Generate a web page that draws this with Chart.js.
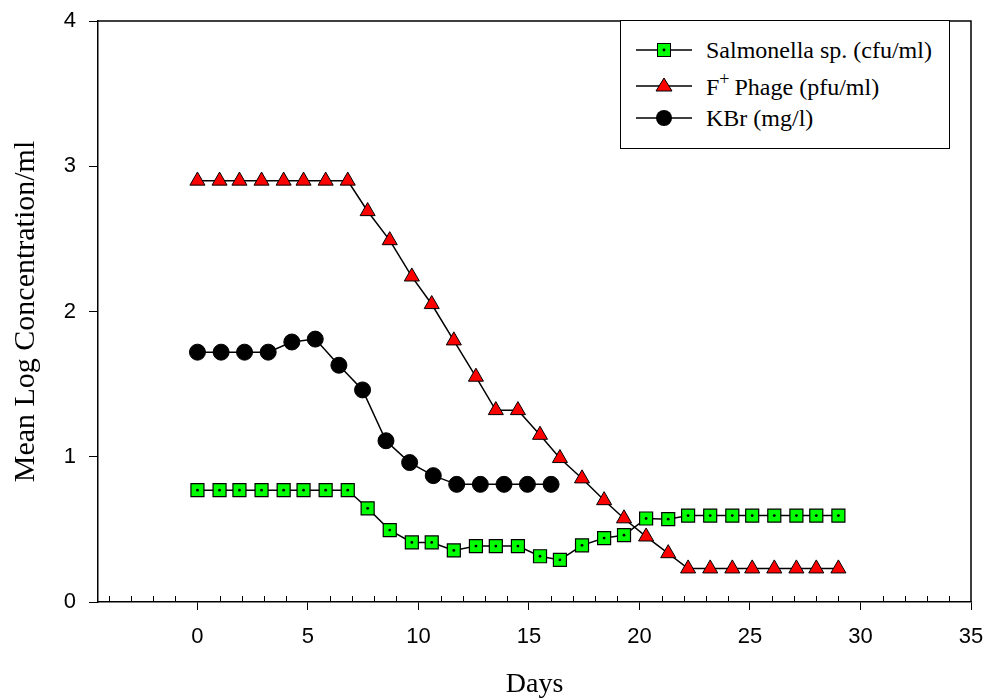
<!DOCTYPE html>
<html>
<head>
<meta charset="utf-8">
<script src="https://cdn.jsdelivr.net/npm/chart.js@4/dist/chart.umd.min.js"></script>
<style>
	body { margin: 0; background: #fff; }
	#wrap { position: relative; width: 987px; height: 700px; }
	#legend {
		position: absolute; left: 620px; top: 20px; width: 330px; height: 129px;
		border: 1.5px solid #000; background: #fff; box-sizing: border-box;
		font-family: "Liberation Serif", "Times New Roman", serif; font-size: 24px; color: #000;
	}
	.row { position: absolute; left: 0; height: 30px; display: flex; align-items: center; }
	.row svg { margin-left: 15px; margin-right: 14px; }
	sup { font-size: 0.75em; vertical-align: 0.55em; margin-right: 5px; }
</style>
</head>
<body>
<div id="wrap">
	<canvas id="chart" width="987" height="700"></canvas>
	<div id="legend">
		<div class="row" style="top:14px">
			<svg width="56" height="20"><line x1="0" y1="10" x2="56" y2="10" stroke="#000" stroke-width="1.5"/><rect x="21.5" y="3.5" width="13" height="13" fill="#00ff00" stroke="#000" stroke-width="1"/><circle cx="28" cy="10" r="1.4" fill="#000"/></svg>
			<span>Salmonella sp. (cfu/ml)</span>
		</div>
		<div class="row" style="top:49px">
			<svg width="56" height="20"><line x1="0" y1="11" x2="56" y2="11" stroke="#000" stroke-width="1.5"/><polygon points="28,3 36,16 20,16" fill="#ff0000" stroke="#000" stroke-width="1"/></svg>
			<span>F<sup>+</sup>Phage (pfu/ml)</span>
		</div>
		<div class="row" style="top:82px">
			<svg width="56" height="20"><line x1="0" y1="10" x2="56" y2="10" stroke="#000" stroke-width="1.5"/><circle cx="28" cy="10" r="8" fill="#000"/></svg>
			<span>KBr (mg/l)</span>
		</div>
	</div>
</div>
<script>
// sampling days (Salmonella and phage share the same days)
const sampleDays = [0, 1, 1.9, 2.9, 3.9, 4.8, 5.8, 6.8, 7.7, 8.7, 9.7, 10.6, 11.6, 12.6, 13.5, 14.5,
	15.5, 16.4, 17.4, 18.4, 19.3, 20.3, 21.3, 22.2, 23.2, 24.2, 25.1, 26.1, 27.1, 28, 29];
const salmonella = [0.77, 0.77, 0.77, 0.77, 0.77, 0.77, 0.77, 0.77, 0.645, 0.495, 0.41, 0.41, 0.355,
	0.385, 0.385, 0.385, 0.315, 0.29, 0.39, 0.44, 0.46, 0.575, 0.57, 0.595, 0.595, 0.595, 0.595,
	0.595, 0.595, 0.595, 0.595];
const phage = [2.9, 2.9, 2.9, 2.9, 2.9, 2.9, 2.9, 2.9, 2.69, 2.49, 2.24, 2.05, 1.8, 1.55, 1.32, 1.32,
	1.15, 0.99, 0.85, 0.7, 0.575, 0.45, 0.335, 0.23, 0.23, 0.23, 0.23, 0.23, 0.23, 0.23, 0.23];
const kbrDays = [0, 1.07, 2.13, 3.2, 4.27, 5.33, 6.4, 7.47, 8.53, 9.6, 10.67, 11.73, 12.8, 13.87, 14.93, 16];
const kbr = [1.72, 1.72, 1.72, 1.72, 1.79, 1.81, 1.63, 1.46, 1.11, 0.96, 0.87, 0.81, 0.81, 0.81, 0.81, 0.81];

const xTicks = [0, 5, 10, 15, 20, 25, 30, 35];
const yTicks = [0, 1, 2, 3, 4];

const toPoints = (xs, ys) => xs.map((x, i) => ({x: x, y: ys[i]}));

// frame on top/right plus inward minor ticks on the x axis
const framePlugin = {
	id: `frame`,
	afterDraw(chart) {
		const {ctx, chartArea} = chart;
		const xScale = chart.scales.x;
		ctx.save();
		ctx.strokeStyle = `#000`;
		ctx.lineWidth = 1.5;
		ctx.beginPath();
		ctx.moveTo(chartArea.left, chartArea.top);
		ctx.lineTo(chartArea.right, chartArea.top);
		ctx.lineTo(chartArea.right, chartArea.bottom);
		ctx.stroke();
		ctx.lineWidth = 1;
		for (let v = -4; v < 35; v++) {
			if (v % 5 === 0) { continue; }
			const px = Math.round(xScale.getPixelForValue(v)) + 0.5;
			ctx.beginPath();
			ctx.moveTo(px, chartArea.bottom);
			ctx.lineTo(px, chartArea.bottom - 6);
			ctx.stroke();
		}
		ctx.restore();
	}
};

new Chart(document.getElementById(`chart`), {
	type: `scatter`,
	data: {
		datasets: [
			{
				label: `dots`,
				data: toPoints(sampleDays, salmonella),
				showLine: false,
				pointStyle: `circle`,
				pointRadius: 1.4,
				backgroundColor: `#000`,
				borderWidth: 0,
				order: 0
			},
			{
				label: `Salmonella sp. (cfu/ml)`,
				data: toPoints(sampleDays, salmonella),
				showLine: true,
				borderColor: `#000`,
				borderWidth: 1.5,
				pointStyle: `rect`,
				pointRadius: 9.2,
				pointBackgroundColor: `#00ff00`,
				pointBorderColor: `#000`,
				pointBorderWidth: 1.2,
				order: 1
			},
			{
				label: `F+ Phage (pfu/ml)`,
				data: toPoints(sampleDays, phage),
				showLine: true,
				borderColor: `#000`,
				borderWidth: 1.5,
				pointStyle: `triangle`,
				pointRadius: 8.7,
				pointBackgroundColor: `#ff0000`,
				pointBorderColor: `#000`,
				pointBorderWidth: 1,
				order: 2
			},
			{
				label: `KBr (mg/l)`,
				data: toPoints(kbrDays, kbr),
				showLine: true,
				borderColor: `#000`,
				borderWidth: 1.5,
				pointStyle: `circle`,
				pointRadius: 8,
				pointBackgroundColor: `#000`,
				pointBorderColor: `#000`,
				pointBorderWidth: 1,
				order: 3
			}
		]
	},
	options: {
		responsive: false,
		animation: false,
		events: [],
		layout: {
			autoPadding: false,
			padding: {left: 0, top: 21, right: 16, bottom: 0}
		},
		plugins: {
			legend: {display: false},
			tooltip: {enabled: false}
		},
		scales: {
			x: {
				type: `linear`,
				min: -4.5,
				max: 35,
				afterBuildTicks: scale => { scale.ticks = xTicks.map(v => ({value: v})); },
				afterFit: scale => {
					scale.height = 98;
					scale.paddingLeft = 0;
					scale.paddingRight = 0;
				},
				grid: {
					drawOnChartArea: false,
					color: `#000`,
					tickLength: 8,
					lineWidth: 1
				},
				border: {color: `#000`, width: 1.5},
				ticks: {
					color: `#000`,
					padding: 14,
					font: {family: `"Liberation Sans", Arial, sans-serif`, size: 22},
					callback: v => `${v}`
				},
				title: {
					display: true,
					text: `Days`,
					color: `#000`,
					font: {family: `"Liberation Serif", "Times New Roman", serif`, size: 28, lineHeight: 1},
					padding: {top: 0, bottom: 1}
				}
			},
			y: {
				type: `linear`,
				min: 0,
				max: 4,
				afterBuildTicks: scale => { scale.ticks = yTicks.map(v => ({value: v})); },
				afterFit: scale => {
					scale.width = 98;
					scale.paddingTop = 0;
					scale.paddingBottom = 0;
				},
				grid: {
					drawOnChartArea: false,
					color: `#000`,
					tickLength: 9,
					lineWidth: 1
				},
				border: {color: `#000`, width: 1.5},
				ticks: {
					color: `#000`,
					padding: 13,
					font: {family: `"Liberation Sans", Arial, sans-serif`, size: 22}
				},
				title: {
					display: true,
					text: `Mean Log Concentration/ml`,
					color: `#000`,
					font: {family: `"Liberation Serif", "Times New Roman", serif`, size: 30, lineHeight: 1},
					padding: {top: 11, bottom: 0}
				}
			}
		}
	},
	plugins: [framePlugin]
});
</script>
</body>
</html>
